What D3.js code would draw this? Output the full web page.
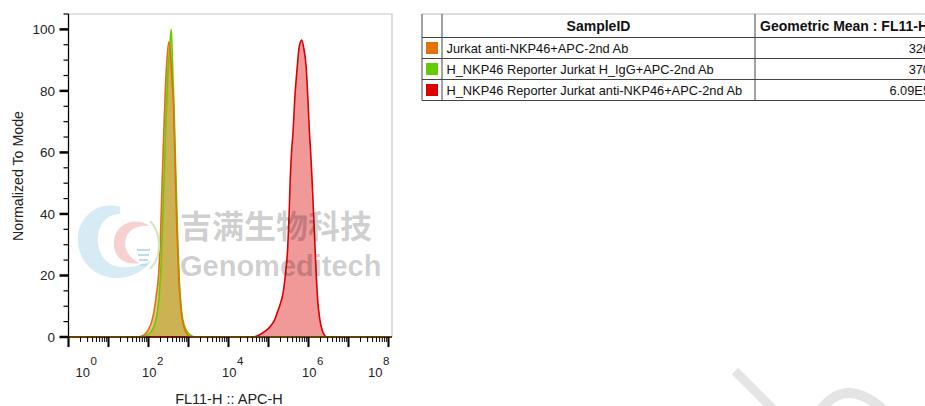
<!DOCTYPE html>
<html>
<head>
<meta charset="utf-8">
<script src="https://cdn.jsdelivr.net/npm/d3@7"></script>
<style>
body { margin: 0; background: #fff; }
svg { display: block; font-family: "Liberation Sans", Arial, sans-serif; }
</style>
</head>
<body>
<svg id="chart" width="925" height="406"></svg>
<script>
// legend table
var sampleNames = ["Jurkat anti-NKP46+APC-2nd Ab",
    "H_NKP46 Reporter Jurkat H_IgG+APC-2nd Ab",
    "H_NKP46 Reporter Jurkat anti-NKP46+APC-2nd Ab"];
var sampleColors = ["#e3700a", "#66cc00", "#dd0000"];
var geoMeans = ["326", "370", "6.09E5"];

// histograms: x = log10(FL11-H), y = % of mode
var orangeLog = [0, 1.75, 1.85, 1.92, 2.0, 2.08, 2.14, 2.2, 2.25, 2.3, 2.34, 2.38, 2.42, 2.46, 2.51, 2.55, 2.59, 2.625, 2.65, 2.675, 2.71, 2.76, 2.82, 2.88, 2.95, 3.05, 8.09];
var orangeVal = [0, 0, 0.4, 1, 2.5, 5, 8.5, 14, 20, 33, 50, 66, 80, 90, 96, 92, 83, 76, 64, 51, 35, 18.5, 8, 3.5, 1.2, 0, 0];

var greenLog = [0, 1.85, 1.95, 2.05, 2.15, 2.22, 2.27, 2.32, 2.36, 2.4, 2.44, 2.48, 2.52, 2.57, 2.6, 2.635, 2.66, 2.69, 2.73, 2.77, 2.83, 2.9, 2.98, 3.06, 3.15, 8.09];
var greenVal = [0, 0, 0.5, 1.5, 4, 8, 14, 25, 40, 55, 72, 85, 92, 100, 89, 76, 64, 50, 32, 18, 8, 3.5, 1.5, 0.5, 0, 0];

var redLog = [0, 4.62, 4.75, 4.85, 4.95, 5.05, 5.15, 5.22, 5.3, 5.36, 5.42, 5.48, 5.51, 5.54, 5.58, 5.61, 5.66, 5.72, 5.77, 5.83, 5.88, 5.94, 5.99, 6.025, 6.05, 6.09, 6.15, 6.19, 6.23, 6.28, 6.34, 6.39, 6.45, 8.09];
var redVal = [0, 0, 0.6, 1.3, 2.2, 3.5, 5.5, 8, 11, 14, 20, 29, 38, 50, 61, 66, 78, 88, 94.5, 96.5, 94, 88, 76, 66, 61, 51, 33, 21, 12, 6, 2.3, 0.8, 0, 0];

var xMajorExp = [0, 1, 2, 3, 4, 5, 6, 7, 8];
var xLabelExp = [0, 2, 4, 6, 8];
var yTicks = [0, 5, 10, 15, 20, 25, 30, 35, 40, 45, 50, 55, 60, 65, 70, 75, 80, 85, 90, 95, 100, 105];
var yLabels = [0, 20, 40, 60, 80, 100];

var svg = d3.select("#chart");
var plot = { left: 68.5, right: 392, top: 14, bottom: 337 };

var x = d3.scaleLog()
    .domain([1, Math.pow(10, 8.0875)])
    .range([plot.left, plot.right]);
var y = d3.scaleLinear()
    .domain([0, 105])
    .range([plot.bottom, plot.top]);

// frame
svg.append("path")
    .attr("d", "M" + plot.left + "," + plot.top + "H" + plot.right + "V" + plot.bottom)
    .attr("fill", "none").attr("stroke", "#c8c8c8").attr("stroke-width", 1.2);

svg.append("clipPath").attr("id", "clip")
    .append("rect")
    .attr("x", plot.left).attr("y", plot.top - 2)
    .attr("width", plot.right - plot.left).attr("height", plot.bottom - plot.top + 3);

var series = [
    { lg: redLog, v: redVal, color: sampleColors[2], op: 0.4 },
    { lg: greenLog, v: greenVal, color: sampleColors[1], op: 0.45 },
    { lg: orangeLog, v: orangeVal, color: sampleColors[0], op: 0.45 }
];

var area = d3.area()
    .curve(d3.curveMonotoneX)
    .x(function (d) { return x(Math.pow(10, d[0])); })
    .y0(y(0))
    .y1(function (d) { return y(d[1]); });
var line = d3.line()
    .curve(d3.curveMonotoneX)
    .x(function (d) { return x(Math.pow(10, d[0])); })
    .y(function (d) { return y(d[1]); });

var gCurves = svg.append("g").attr("clip-path", "url(#clip)");
series.forEach(function (s) {
    var pts = s.lg.map(function (l, i) { return [l, s.v[i]]; });
    gCurves.append("path").datum(pts)
        .attr("d", area)
        .attr("fill", s.color).attr("fill-opacity", s.op);
});
series.forEach(function (s) {
    var pts = s.lg.map(function (l, i) { return [l, s.v[i]]; });
    gCurves.append("path").datum(pts)
        .attr("d", line)
        .attr("fill", "none").attr("stroke", s.color)
        .attr("stroke-width", 1.6).attr("stroke-linejoin", "round");
});

// y axis
var gy = svg.append("g");
gy.append("line")
    .attr("x1", plot.left).attr("x2", plot.left)
    .attr("y1", plot.top).attr("y2", plot.bottom + 10)
    .attr("stroke", "#000").attr("stroke-width", 1.3);
gy.selectAll("line.tk").data(yTicks).enter().append("line")
    .attr("class", "tk")
    .attr("x1", function (d) { return d % 20 === 0 ? plot.left - 9 : plot.left - 5; })
    .attr("x2", plot.left)
    .attr("y1", function (d) { return y(d); })
    .attr("y2", function (d) { return y(d); })
    .attr("stroke", "#000")
    .attr("stroke-width", function (d) { return d % 20 === 0 ? 2.5 : 1.2; });
gy.selectAll("text").data(yLabels).enter().append("text")
    .attr("x", 55)
    .attr("y", function (d) { return y(d) + 5; })
    .attr("text-anchor", "end")
    .attr("font-size", 13.5)
    .attr("fill", "#222")
    .text(function (d) { return d; });

// x axis
var gx = svg.append("g");
gx.append("line")
    .attr("x1", plot.left).attr("x2", plot.right)
    .attr("y1", plot.bottom).attr("y2", plot.bottom)
    .attr("stroke", "#000").attr("stroke-width", 1.2);
var minorVals = [];
xMajorExp.slice(0, -1).forEach(function (e) {
    [2, 3, 4, 5, 6, 7, 8, 9].forEach(function (m) { minorVals.push(m * Math.pow(10, e)); });
});
gx.selectAll("line.mn").data(minorVals).enter().append("line")
    .attr("class", "mn")
    .attr("x1", function (d) { return x(d); }).attr("x2", function (d) { return x(d); })
    .attr("y1", plot.bottom).attr("y2", plot.bottom + 5)
    .attr("stroke", "#000").attr("stroke-width", 1);
gx.selectAll("line.mj").data(xMajorExp).enter().append("line")
    .attr("class", "mj")
    .attr("x1", function (d) { return x(Math.pow(10, d)); })
    .attr("x2", function (d) { return x(Math.pow(10, d)); })
    .attr("y1", plot.bottom).attr("y2", plot.bottom + 10)
    .attr("stroke", "#000").attr("stroke-width", 2);

var lbl = gx.selectAll("text").data(xLabelExp).enter().append("text")
    .attr("x", function (d, i) {
        var shift = i === 0 ? 13.5 : (i === xLabelExp.length - 1 ? -14 : 0);
        return x(Math.pow(10, d)) + shift - 6.5;
    })
    .attr("y", 376.5)
    .attr("font-size", 13)
    .attr("fill", "#222");
lbl.append("tspan").text("10");
lbl.append("tspan")
    .attr("dx", 0.5).attr("dy", -11.5)
    .attr("font-size", 11.5)
    .text(function (d) { return d; });

// axis titles
svg.append("text")
    .attr("x", 229).attr("y", 404)
    .attr("text-anchor", "middle")
    .attr("font-size", 14.5).attr("fill", "#222")
    .text("FL11-H :: APC-H");
svg.append("text")
    .attr("transform", "translate(22.5,176) rotate(-90)")
    .attr("text-anchor", "middle")
    .attr("font-size", 14.2).attr("fill", "#222")
    .text("Normalized To Mode");

// watermark
var wm = svg.append("g");
wm.append("path")
    .attr("d", "M120,207 C95,200 76,220 78,243 C80,268 105,284 130,276 C140,273 148,266 152,260 C140,266 125,270 112,265 C98,258 95,240 100,228 C104,218 112,214 120,214 Z")
    .attr("fill", "#c6e3ef").attr("opacity", 0.7);
wm.append("path")
    .attr("d", "M150,226 C135,216 116,224 114,240 C112,256 124,266 139,263 C128,257 123,248 126,238 C129,229 138,225 150,226 Z")
    .attr("fill", "#f3bcbc").attr("opacity", 0.7);
wm.append("path")
    .attr("d", "M150,221 C161,232 163,256 150,269")
    .attr("fill", "none").attr("stroke", "#cfe8c0").attr("stroke-width", 2);
[250, 255, 260, 265].forEach(function (yy, i) {
    wm.append("line")
        .attr("x1", 137 + i).attr("x2", 150 - i)
        .attr("y1", yy).attr("y2", yy)
        .attr("stroke", "#bcdcec").attr("stroke-width", 2);
});
wm.append("text")
    .attr("x", 180).attr("y", 238)
    .attr("font-family", "'Noto Sans CJK SC', sans-serif")
    .attr("font-weight", "bold").attr("font-size", 32)
    .attr("fill", "#000").attr("fill-opacity", 0.2)
    .text("吉满生物科技");
wm.append("text")
    .attr("x", 180).attr("y", 276)
    .attr("font-weight", "bold").attr("font-size", 29)
    .attr("fill", "#000").attr("fill-opacity", 0.2)
    .text("Genomeditech");
wm.append("line")
    .attr("x1", 735).attr("y1", 371).attr("x2", 776).attr("y2", 412)
    .attr("stroke", "#e4e4e4").attr("stroke-width", 9);
wm.append("path")
    .attr("d", "M818,414 Q845,372 888,414")
    .attr("fill", "none").attr("stroke", "#e4e4e4").attr("stroke-width", 10);

// table
var colX = [422, 442, 755, 940];
var rowY = [14, 37.5, 58.5, 79.5, 100.5];
var tb = svg.append("g");
rowY.forEach(function (ry, i) {
    tb.append("line")
        .attr("x1", colX[0]).attr("x2", 925)
        .attr("y1", ry).attr("y2", ry)
        .attr("stroke", i === 0 ? "#bbb" : "#444").attr("stroke-width", 1);
});
colX.slice(0, 3).forEach(function (cx) {
    tb.append("line")
        .attr("x1", cx).attr("x2", cx)
        .attr("y1", rowY[0]).attr("y2", rowY[rowY.length - 1])
        .attr("stroke", "#444").attr("stroke-width", 1);
});
tb.append("text")
    .attr("x", (colX[1] + colX[2]) / 2).attr("y", 31)
    .attr("text-anchor", "middle")
    .attr("font-weight", "bold").attr("font-size", 14).attr("fill", "#111")
    .text("SampleID");
tb.append("text")
    .attr("x", 760).attr("y", 31)
    .attr("font-weight", "bold").attr("font-size", 14).attr("fill", "#111")
    .text("Geometric Mean : FL11-H");
sampleNames.forEach(function (name, i) {
    var top = rowY[i + 1];
    tb.append("rect")
        .attr("x", 426).attr("y", top + 4.5)
        .attr("width", 12).attr("height", 12)
        .attr("fill", sampleColors[i]);
    tb.append("text")
        .attr("x", 446.5).attr("y", top + 15.5)
        .attr("font-size", 12.8).attr("fill", "#111")
        .text(name);
    tb.append("text")
        .attr("x", 930).attr("y", top + 15.5)
        .attr("text-anchor", "end")
        .attr("font-size", 12.8).attr("fill", "#111")
        .text(geoMeans[i]);
});
</script>
</body>
</html>
